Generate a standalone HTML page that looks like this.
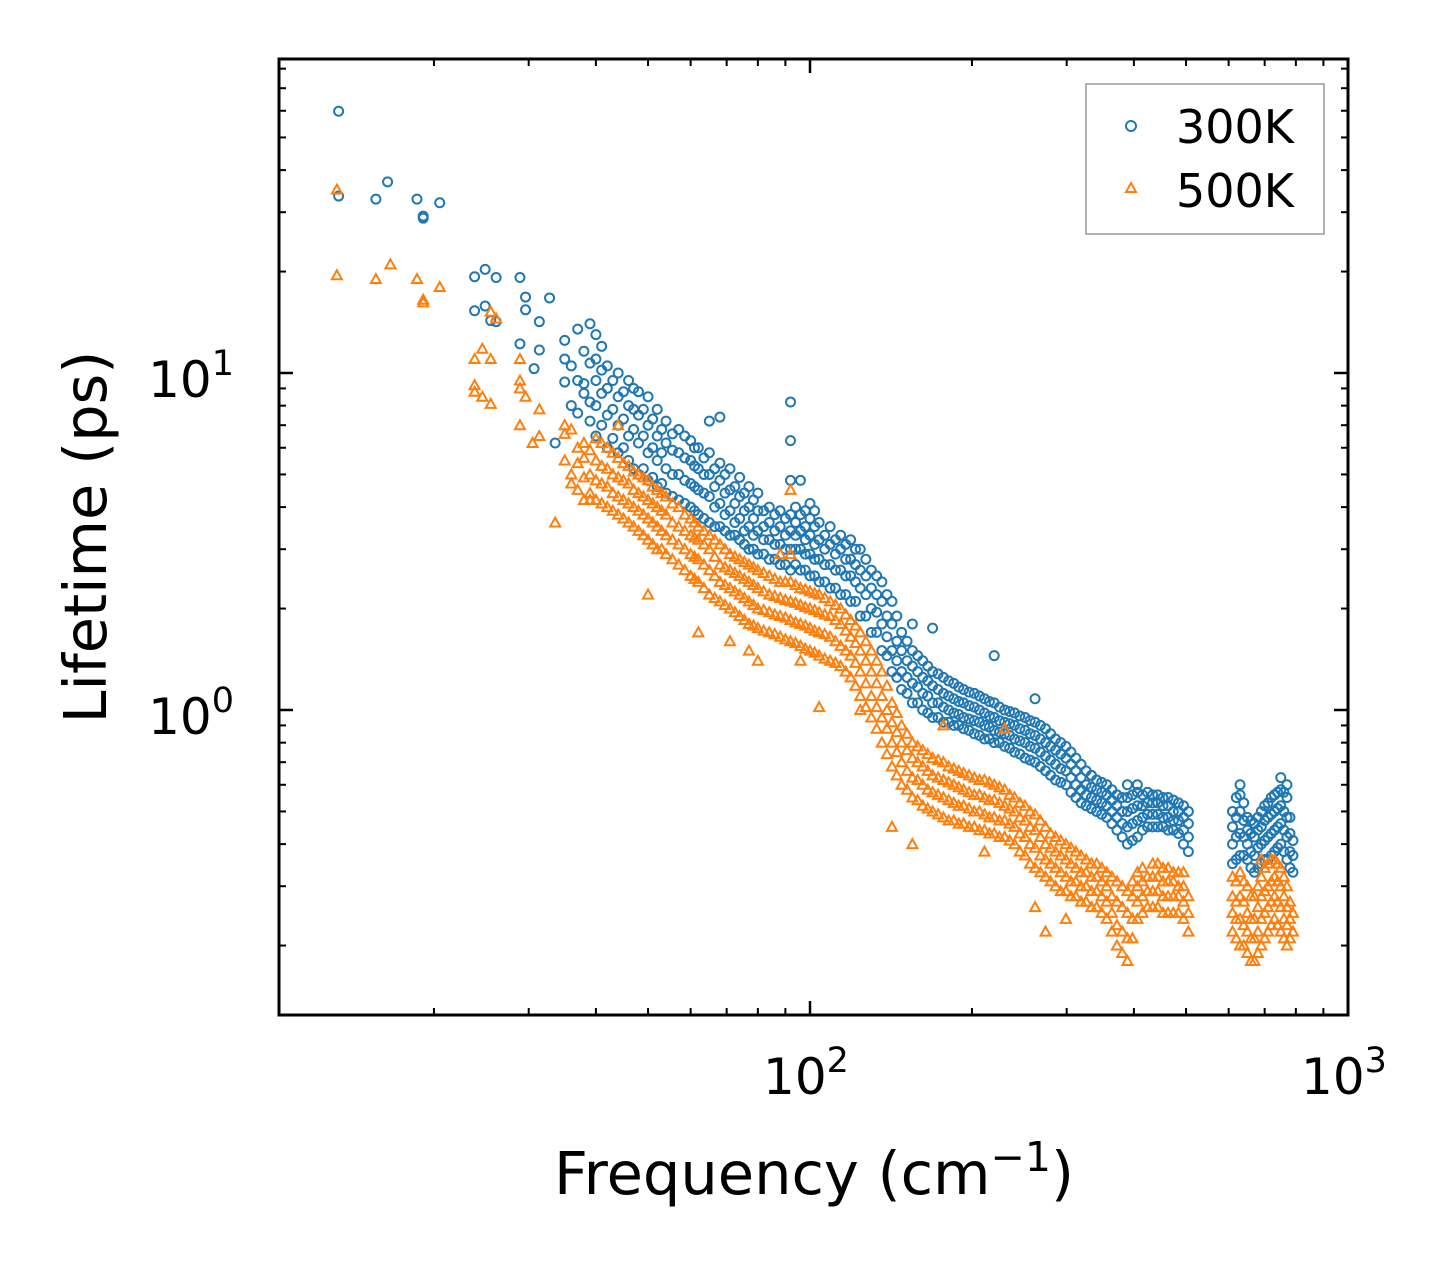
<!DOCTYPE html>
<html><head><meta charset="utf-8"><style>
html,body{margin:0;padding:0;background:#fff;}
svg{display:block;font-family:"DejaVu Sans","Liberation Sans",sans-serif;}
</style></head><body>
<svg id="chart" width="1453" height="1265" viewBox="0 0 1453 1265" xmlns="http://www.w3.org/2000/svg">
<rect width="1453" height="1265" fill="#fff"/>
<g id="marks"></g>
<g id="ticks"></g>
<rect x="279" y="59" width="1069" height="956" fill="none" stroke="#000" stroke-width="3"/>
<text x="814" y="1194" font-size="59" text-anchor="middle">Frequency (cm<tspan dy="-23" font-size="41">−1</tspan><tspan dy="23">)</tspan></text>
<text transform="translate(106,537) rotate(-90)" font-size="59" text-anchor="middle">Lifetime (ps)</text>
<g>
<rect x="1086" y="84" width="238" height="150" fill="#fff" stroke="#999" stroke-width="1.5"/>
<circle cx="1131" cy="126" r="5" fill="none" stroke="#1f77b4" stroke-width="2"/>
<text x="1176" y="143" font-size="46">300K</text>
<polygon points="1131,183 1136,192 1126,192" fill="none" stroke="#ff7f0e" stroke-width="2"/>
<text x="1176" y="207" font-size="46">500K</text>
</g>
</svg>
<script>
const sparseFreq300=[13.3,15.6,16.4,18.6,19.1,20.5,23.8,24.9,25.5,26.1,28.9,29.6,30.7,31.4,32.8,33.6,35,36,37,38,39];
const sparseLife300=[[59.8,33.5],[32.8],[36.9],[32.8],[28.8,29.2],[32],[19.3,15.3],[20.3,15.8],[14.3],[19.2,14.2],[19.2,12.2],[16.8,15.4],[10.3],[14.2,11.7],[16.7],[6.2],[11,12.5,9.4],[10.5,8],[13.5,9.5,7.6],[11.6,9.3,8.7],[14,10.7,8.2,7.2]];
const bandFreq=[40,42,44,46,48,50,52,54,57,60,62,65,68,71,74,77,80,84,88,92,96,100,104,109,114,119,124,130,136,142,148,155,162,169,177,185,193,202,211,220,230,240,251,262,274,286,299,312,326,341,356,372,389,406,424,443,463,484,505,610,630,650,670,690,710,730,750,770,790];
const bandLife300=[[6.5,8,9.5,11,13],[6,7.5,9,10.5],[5.8,7,8.5,10],[5.5,6.5,8,9.5],[5,6.2,7.5,8.8],[4.8,5.8,7,8.5],[4.6,5.5,6.5,7.8],[4.4,5.2,6.2,7.2],[4.2,5,5.8,6.8],[4,4.7,5.5,6.3],[3.8,4.5,5.2,6],[3.6,4.3,5,5.8,7.2],[3.5,4.1,4.8,5.4,7.4],[3.3,3.9,4.5,5.2],[3.2,3.7,4.3,4.9],[3,3.5,4,4.6],[2.9,3.4,3.9,4.4],[2.8,3.2,3.6,4],[2.7,3.1,3.5,3.9],[2.6,3,3.4,3.8,4.8,6.3,8.2],[2.6,3,3.4,3.8,4.8],[2.5,2.9,3.3,3.7,4.1],[2.4,2.8,3.2,3.6],[2.3,2.7,3.1,3.5],[2.2,2.6,3,3.3],[2.1,2.5,2.8,3.2],[1.9,2.3,2.6,3],[1.7,2,2.3,2.6],[1.5,1.8,2.1,2.4],[1.3,1.5,1.8,2.1],[1.15,1.3,1.5,1.7],[1.05,1.2,1.35,1.5,1.8],[1,1.12,1.25,1.4],[0.95,1.05,1.18,1.3,1.75],[0.92,1.02,1.12,1.25],[0.9,0.98,1.08,1.2],[0.88,0.95,1.05,1.15],[0.85,0.93,1.02,1.12],[0.82,0.9,0.98,1.08],[0.8,0.87,0.95,1.05,1.45],[0.78,0.85,0.92,1],[0.75,0.82,0.9,0.98],[0.72,0.8,0.87,0.95],[0.7,0.77,0.84,0.92,1.08],[0.66,0.73,0.8,0.88],[0.62,0.69,0.76,0.82],[0.6,0.66,0.72,0.78],[0.55,0.6,0.66,0.72],[0.52,0.56,0.6,0.66],[0.5,0.54,0.58,0.62],[0.48,0.52,0.56,0.6],[0.44,0.48,0.52,0.56],[0.4,0.45,0.5,0.55,0.6],[0.42,0.47,0.52,0.57,0.6],[0.45,0.49,0.53,0.57],[0.45,0.49,0.53,0.56],[0.44,0.48,0.52,0.55],[0.43,0.47,0.5,0.53],[0.38,0.42,0.46,0.5],[0.35,0.4,0.45,0.5],[0.37,0.43,0.5,0.56,0.6],[0.36,0.4,0.44,0.48],[0.33,0.37,0.42,0.46],[0.35,0.4,0.45,0.5],[0.36,0.42,0.48,0.53],[0.38,0.44,0.5,0.56],[0.4,0.46,0.52,0.58,0.63],[0.36,0.42,0.48,0.55,0.6],[0.33,0.37,0.41]];
const midFreq=[41,43,45,47,49,51,53,55.5,58.5,61,63.5,66.5,69.5,72.5,75.5,78.5,82,86,90,94,98,102,106.5,111.5,116.5,121.5,127,133,139,145,151.5,158.5,165.5,173,181,189,197.5,206.5,215.5,225,235,245.5,256.5,268,280,292.5,305.5,319,333.5,348.5,364,380.5,397.5,415,433.5,453,473.5,494.5,620,640,660,680,700,720,740,760,780];
const midLife300=[[7,8.7,10.2,12],[6.4,7.8,9.5],[6,7.3,8.8],[5.2,6.8,7.8,9],[5.2,6.5,7.8],[4.9,6,7.3],[4.7,5.8,6.8],[4.3,5,5.9,6.6],[4.1,4.8,5.6,6.5],[3.9,4.6,5.3,6],[3.7,4.4,5,5.6],[3.5,4,4.6,5.2],[3.4,3.8,4.4,5],[3.3,3.6,4.1,4.6],[3.1,3.4,3.9,4.4],[3,3.3,3.7,4.2],[2.9,3.2,3.5,3.9],[2.8,3.1,3.4,3.8],[2.7,3,3.3,3.7],[2.7,3,3.3,3.6,4],[2.6,2.9,3.2,3.5,3.9],[2.5,2.8,3.1,3.5,3.9],[2.4,2.7,3,3.3],[2.3,2.6,2.9,3.2],[2.2,2.5,2.8,3.1],[2.1,2.4,2.7,3],[1.9,2.2,2.5,2.8],[1.7,1.95,2.2,2.5],[1.45,1.65,1.9,2.2],[1.25,1.4,1.6,1.9],[1.12,1.25,1.4,1.6],[1.05,1.17,1.3,1.45],[0.98,1.1,1.22,1.35],[0.95,1.05,1.15,1.28],[0.92,1,1.1,1.22],[0.9,0.97,1.06,1.17],[0.87,0.94,1.03,1.13],[0.84,0.92,1,1.1],[0.82,0.89,0.96,1.06],[0.8,0.86,0.93,1.02],[0.77,0.84,0.91,0.99],[0.74,0.81,0.88,0.96],[0.71,0.78,0.85,0.93],[0.68,0.75,0.82,0.9],[0.64,0.71,0.78,0.85],[0.61,0.67,0.74,0.8],[0.57,0.63,0.69,0.75],[0.53,0.58,0.63,0.69],[0.51,0.55,0.59,0.64],[0.49,0.53,0.57,0.61],[0.46,0.5,0.54,0.58],[0.42,0.46,0.5,0.55],[0.41,0.46,0.51,0.56],[0.44,0.48,0.52,0.56],[0.45,0.49,0.53,0.56],[0.45,0.48,0.52,0.55],[0.44,0.47,0.5,0.54],[0.4,0.44,0.48,0.52],[0.36,0.42,0.48,0.55],[0.37,0.42,0.47,0.53],[0.34,0.38,0.43,0.47],[0.34,0.39,0.44,0.48],[0.36,0.41,0.47,0.52],[0.37,0.43,0.49,0.55],[0.39,0.45,0.51,0.57],[0.38,0.44,0.5,0.57],[0.34,0.38,0.43,0.48]];
const sparseFreq500=[13.2,15.6,16.6,18.6,19.1,20.5,23.8,24.6,25.5,26.1,28.9,29.6,30.5,31.4,33.6,35,36,37,38,39];
const sparseLife500=[[35,19.5],[19],[21],[19],[16.5,16.2],[18],[11,8.8,9.2],[11.8,8.5],[15.2,11,8.1],[14.5],[11,9.5,9,7],[8.5],[6.2],[7.8,6.5],[3.6],[7,6.6,5.5],[6.8,5,4.7],[6,5.4,4.5],[6.2,5.6,4.9,4.2],[5.9,5,4.4,4.2]];
const bandLife500=[[4.2,4.8,5.5,6.4],[4,4.6,5.2,6],[3.8,4.3,4.9,5.6,7],[3.6,4.1,4.7,5.3],[3.4,3.9,4.4,5],[3.2,3.7,4.2,4.8,2.2],[3,3.5,4,4.5],[2.9,3.3,3.8,4.3],[2.7,3.1,3.5,4],[2.5,2.9,3.3,3.7],[2.4,2.8,3.2,3.5,1.7],[2.2,2.6,3,3.3],[2.1,2.4,2.7,3.1],[2,2.3,2.6,2.9,1.6],[1.9,2.2,2.5,2.8],[1.8,2.1,2.4,2.7,1.5],[1.75,2,2.3,2.6,1.4],[1.7,1.95,2.2,2.5],[1.65,1.9,2.15,2.4,2.9],[1.6,1.85,2.1,2.4,2.9,4.5],[1.55,1.8,2.05,2.3,1.4],[1.5,1.75,2,2.25],[1.45,1.7,1.95,2.2,1.02],[1.4,1.65,1.9,2.1],[1.35,1.55,1.8,2],[1.25,1.45,1.65,1.85],[1.1,1.3,1.5,1.7,1],[0.95,1.1,1.3,1.5],[0.8,0.95,1.1,1.3],[0.68,0.8,0.92,1.05,0.45],[0.6,0.7,0.8,0.9],[0.55,0.63,0.72,0.8,0.4],[0.52,0.6,0.68,0.76],[0.5,0.57,0.64,0.72],[0.48,0.55,0.62,0.7,0.9],[0.47,0.53,0.6,0.67],[0.46,0.52,0.58,0.65],[0.45,0.5,0.56,0.63],[0.44,0.49,0.55,0.62,0.38],[0.43,0.48,0.54,0.6],[0.42,0.47,0.52,0.58,0.88],[0.4,0.45,0.5,0.55],[0.37,0.42,0.47,0.52],[0.34,0.39,0.44,0.49,0.26],[0.32,0.36,0.4,0.45,0.22],[0.3,0.34,0.38,0.42],[0.29,0.32,0.36,0.4,0.24],[0.28,0.31,0.34,0.38],[0.27,0.3,0.33,0.36],[0.26,0.29,0.32,0.35],[0.24,0.27,0.3,0.33],[0.2,0.23,0.27,0.31],[0.18,0.21,0.25,0.29],[0.24,0.27,0.3,0.33],[0.26,0.29,0.32],[0.26,0.29,0.32,0.35],[0.25,0.28,0.31,0.34],[0.25,0.28,0.3,0.33],[0.22,0.25,0.28],[0.22,0.25,0.28,0.32],[0.2,0.24,0.28,0.33],[0.19,0.22,0.25,0.3],[0.18,0.21,0.24,0.28],[0.2,0.24,0.28,0.32,0.36],[0.22,0.26,0.3,0.35],[0.24,0.28,0.32,0.36],[0.22,0.26,0.3,0.34],[0.2,0.23,0.26,0.3],[0.22,0.25]];
const midLife500=[[4.1,4.7,5.3,6.2],[3.9,4.4,5,5.8],[3.7,4.2,4.8,5.4],[3.5,4,4.5,5.1],[3.3,3.8,4.3,4.9],[3.1,3.6,4.1,4.6],[3,3.4,3.9,4.4],[2.8,3.2,3.6,4.1],[2.6,3,3.4,3.8],[2.45,2.85,3.25,3.6],[2.3,2.7,3.1,3.4],[2.15,2.5,2.85,3.2],[2.05,2.35,2.65,3],[1.95,2.25,2.55,2.85],[1.85,2.15,2.45,2.75],[1.78,2.05,2.35,2.65],[1.72,1.98,2.25,2.55],[1.68,1.92,2.18,2.45],[1.62,1.88,2.12,2.4],[1.58,1.82,2.08,2.35],[1.52,1.78,2.02,2.28],[1.48,1.72,1.98,2.22],[1.42,1.68,1.92,2.15],[1.38,1.6,1.85,2.05],[1.3,1.5,1.72,1.92],[1.18,1.38,1.58,1.78],[1.02,1.2,1.4,1.6],[0.88,1.02,1.2,1.4],[0.74,0.88,1,1.18],[0.64,0.75,0.86,0.98],[0.58,0.66,0.76,0.85],[0.54,0.62,0.7,0.78],[0.51,0.58,0.66,0.74],[0.49,0.56,0.63,0.71],[0.47,0.54,0.61,0.68],[0.46,0.52,0.59,0.66],[0.45,0.51,0.57,0.64],[0.44,0.5,0.56,0.62],[0.43,0.48,0.54,0.61],[0.42,0.47,0.53,0.59],[0.41,0.46,0.51,0.56],[0.38,0.43,0.48,0.53],[0.35,0.4,0.45,0.5],[0.33,0.37,0.42,0.47],[0.31,0.35,0.39,0.43],[0.29,0.33,0.37,0.41],[0.28,0.31,0.35,0.39],[0.27,0.3,0.33,0.37],[0.26,0.29,0.32,0.35],[0.25,0.28,0.31,0.34],[0.22,0.25,0.28,0.32],[0.19,0.22,0.26,0.3],[0.21,0.24,0.28,0.31],[0.25,0.28,0.31,0.34],[0.26,0.29,0.32,0.35],[0.25,0.28,0.31,0.34],[0.25,0.28,0.31,0.33],[0.24,0.27,0.3,0.33],[0.21,0.24,0.27,0.31],[0.2,0.23,0.27,0.31],[0.18,0.21,0.24,0.28],[0.19,0.22,0.26,0.3],[0.21,0.25,0.29,0.34],[0.23,0.27,0.31,0.36],[0.23,0.27,0.31,0.35],[0.21,0.24,0.28,0.32],[0.21,0.24,0.27]];
const xMajorTicks=[100,1000];
const yMajorTicks=[1,10];

const NS="http://www.w3.org/2000/svg";
const X0=279,X1=1348,Y0=59,Y1=1015;
const xLogMin=2-531/538, xLogMax=2+538/538;
const yLogMin=-(Y1-373-337)/337, yLogMax=1+(373-Y0)/337;
function xs(f){return X0+(Math.log10(f)-xLogMin)/(xLogMax-xLogMin)*(X1-X0);}
function ys(t){return Y1-(Math.log10(t)-yLogMin)/(yLogMax-yLogMin)*(Y1-Y0);}
const marks=document.getElementById('marks');
function circle(f,t){
  const c=document.createElementNS(NS,'circle');
  c.setAttribute('cx',xs(f));c.setAttribute('cy',ys(t));c.setAttribute('r',4.5);
  c.setAttribute('fill','none');c.setAttribute('stroke','#1f77b4');c.setAttribute('stroke-width',2);
  
  
  marks.appendChild(c);
}
function tri(f,t){
  const x=xs(f),y=ys(t);
  const p=document.createElementNS(NS,'polygon');
  p.setAttribute('points',`${x},${y-5} ${x+5},${y+4} ${x-5},${y+4}`);
  p.setAttribute('fill','none');p.setAttribute('stroke','#ff7f0e');p.setAttribute('stroke-width',2);
  
  
  marks.appendChild(p);
}
sparseFreq300.forEach((f,i)=>sparseLife300[i].forEach(t=>circle(f,t)));
bandFreq.forEach((f,i)=>bandLife300[i].forEach(t=>circle(f,t)));
midFreq.forEach((f,i)=>midLife300[i].forEach(t=>circle(f,t)));
sparseFreq500.forEach((f,i)=>sparseLife500[i].forEach(t=>tri(f,t)));
bandFreq.forEach((f,i)=>bandLife500[i].forEach(t=>tri(f,t)));
midFreq.forEach((f,i)=>midLife500[i].forEach(t=>tri(f,t)));

const tk=document.getElementById('ticks');
function line(x1,y1,x2,y2,w){
  const l=document.createElementNS(NS,'line');
  l.setAttribute('x1',x1);l.setAttribute('y1',y1);l.setAttribute('x2',x2);l.setAttribute('y2',y2);
  l.setAttribute('stroke','#000');l.setAttribute('stroke-width',w);
  
  
  tk.appendChild(l);
}
function label(x,y,exp,anchor){
  const t=document.createElementNS(NS,'text');
  t.setAttribute('x',x);t.setAttribute('y',y);t.setAttribute('font-size',50);t.setAttribute('text-anchor',anchor);
  t.innerHTML=`10<tspan dy="-22" font-size="35">${exp}</tspan>`;
  
  
  tk.appendChild(t);
}
for(let d=10;d<=1000;d*=10){for(let m=1;m<10;m++){const f=d*m;const x=xs(f);if(x<X0+1||x>X1+1)continue;
  const maj=m===1;const L=maj?14:7;const w=maj?2.5:2;
  line(x,Y1,x,Y1-L,w);line(x,Y0,x,Y0+L,w);}}
for(let d=0.1;d<=100;d*=10){for(let m=1;m<10;m++){const t=d*m;const y=ys(t);if(y<Y0-1||y>Y1+1)continue;
  const maj=m===1;const L=maj?14:7;const w=maj?2.5:2;
  line(X0,y,X0+L,y,w);line(X1,y,X1-L,y,w);}}
xMajorTicks.forEach(f=>label(xs(f)-4,1094,Math.round(Math.log10(f)),'middle'));
yMajorTicks.forEach(t=>label(234,ys(t)+24,Math.round(Math.log10(t)),'end'));
</script>
</body></html>
